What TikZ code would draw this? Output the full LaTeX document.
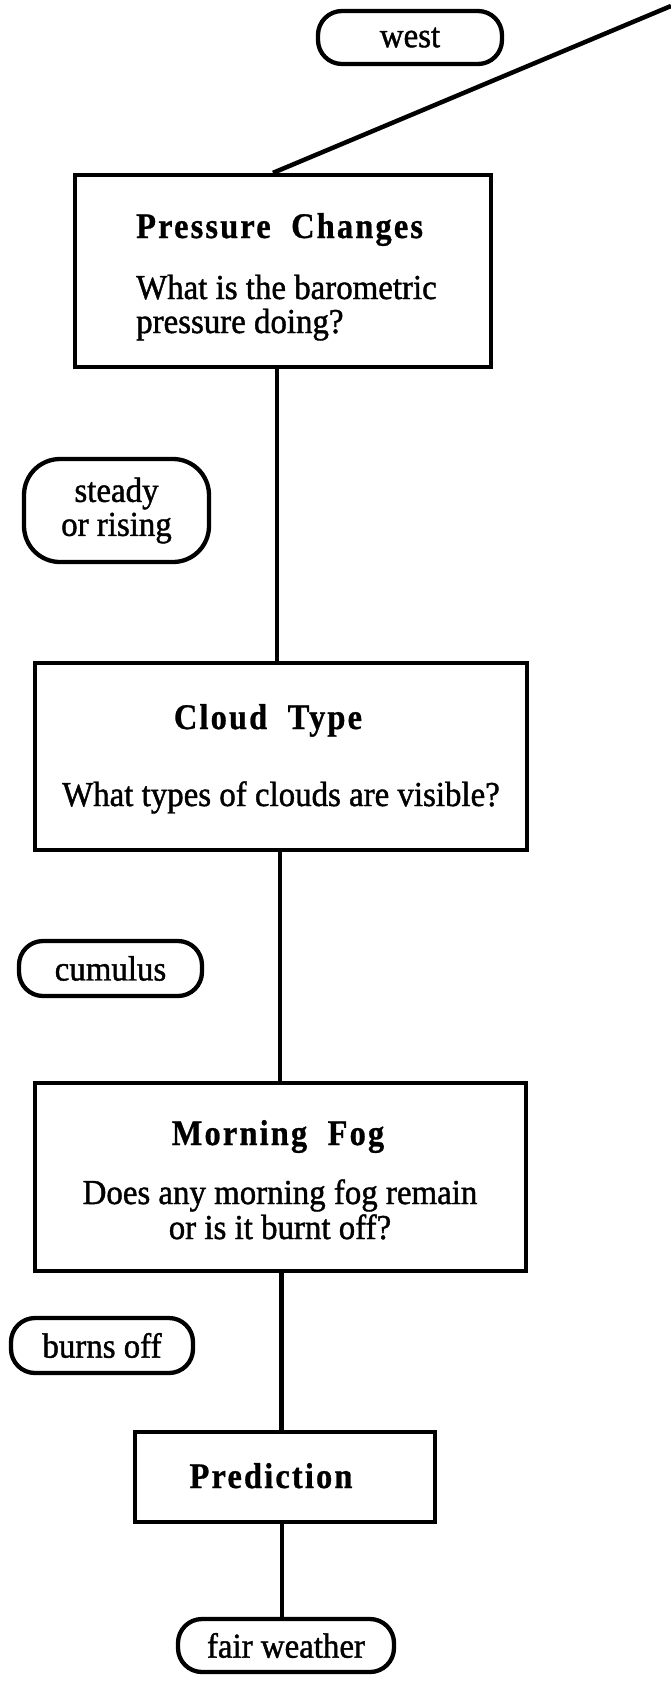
\documentclass[tikz,border=0pt]{standalone}
\usepackage{fontspec}
\setmainfont{Liberation Serif}[FakeStretch=0.94, FakeBold=1.2]
\newfontfamily\headfont{Liberation Serif}[LetterSpace=6, FakeStretch=0.9, FakeBold=0.8]
\begin{document}
\begin{tikzpicture}[x=1pt,y=-1pt,
  every node/.style={font=\fontsize{35}{34}\selectfont},
  box/.style={draw, rectangle, line width=4.3pt, inner sep=0pt},
  pill/.style={draw, rectangle, line width=4.3pt, inner sep=0pt, rounded corners=24pt},
  title/.style={font=\fontsize{36}{32}\selectfont\headfont\bfseries, anchor=base, inner sep=0pt},
  body/.style={anchor=base, inner sep=0pt},
  link/.style={line width=4.5pt}]
\useasboundingbox (0,0) rectangle (671,1682);

% question boxes
\node[box, minimum width=416, minimum height=192] (pc) at (283,271) {};
\node[box, minimum width=492, minimum height=187] (ct) at (281,756.5) {};
\node[box, minimum width=491, minimum height=188] (mf) at (280.5,1177) {};
\node[box, minimum width=300, minimum height=90] (pr) at (285,1477) {};

% box texts
\node[title, anchor=base west] (pct) at (136,238) {Pressure\ \ Changes};
\node[body, anchor=base west] (pcq1) at (136,299) {What is the barometric};
\node[body, anchor=base west] (pcq2) at (136,333) {pressure doing?};

\node[title] (ctt) at (268,729) {Cloud\ \ Type};
\node[body] (ctq) at (281,806) {What types of clouds are visible?};

\node[title] (mft) at (278,1145) {Morning\ \ Fog};
\node[body] (mfq1) at (280,1204) {Does any morning fog remain};
\node[body] (mfq2) at (280,1239) {or is it burnt off?};

\node[title] (prt) at (271,1488) {Prediction};

% answer pills
\node[pill, minimum width=184, minimum height=53] (west) at (410,37.5) {west};
\node[pill, minimum width=185, minimum height=103, rounded corners=36pt, align=center] (sr) at (116.5,510.5) {steady\\or rising};
\node[pill, minimum width=183, minimum height=55] (cu) at (110.5,968.5) {cumulus};
\node[pill, minimum width=182, minimum height=55] (bo) at (102,1345.5) {burns off};
\node[pill, minimum width=216, minimum height=53] (fw) at (286,1645.5) {fair weather};

% connectors
\coordinate (incoming) at (671,6);
\draw[link] ([xshift=-10]pc.north) -- (incoming);
\draw[link] ([xshift=-6]pc.south) -- ([xshift=-4]ct.north);
\draw[link] ([xshift=-1]ct.south) -- ([xshift=-0.5]mf.north);
\draw[link] ([xshift=1]mf.south) -- ([xshift=-3.5]pr.north);
\draw[link] ([xshift=-3]pr.south) -- ([xshift=-4]fw.north);
\end{tikzpicture}
\end{document}
